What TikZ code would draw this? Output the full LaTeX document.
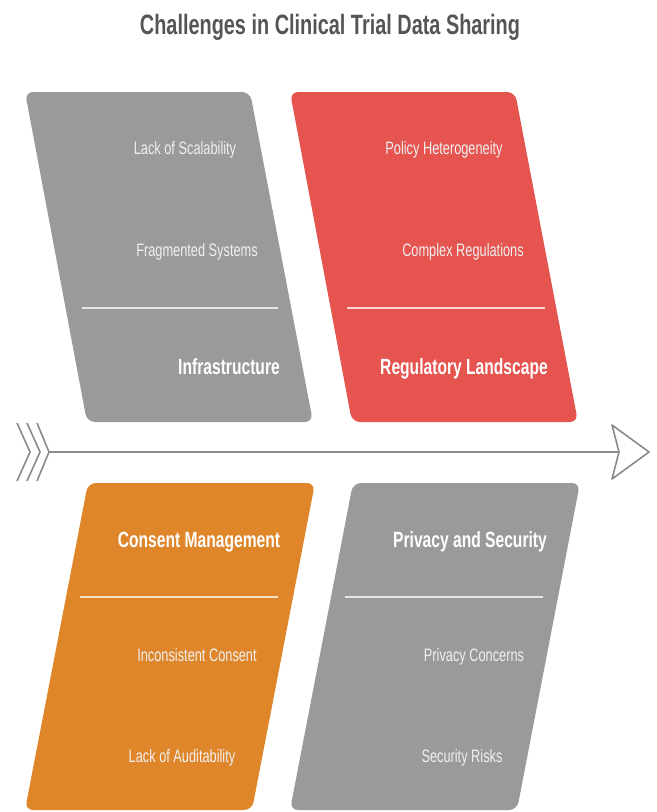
\documentclass[tikz,border=0pt]{standalone}
\usepackage{fontspec}
\setmainfont{Liberation Sans}[FakeStretch=0.71]
\usepackage{xcolor}
\usepackage{tikz}

\definecolor{cardgray}{HTML}{9A9A9A}
\definecolor{cardred}{HTML}{E5544F}
\definecolor{cardorange}{HTML}{DF862B}
\definecolor{titlegray}{HTML}{555555}
\definecolor{linegray}{HTML}{8A8A8A}

\begin{document}
\begin{tikzpicture}[x=1bp,y=-1bp,
  head/.style={font=\bfseries\fontsize{22bp}{24bp}\selectfont,text=white,anchor=base},
  item/.style={font=\fontsize{18bp}{20bp}\selectfont,text=white!94!black,anchor=base},
  divider/.style={draw=white,draw opacity=0.75,line width=2bp},
  card/.style={rounded corners=8bp}]

  \useasboundingbox (0,0) rectangle (657,812);

  \node[font=\bfseries\fontsize{28bp}{30bp}\selectfont,text=titlegray,anchor=base] (title) at (330,35) {Challenges in Clinical Trial Data Sharing};

  \fill[cardgray,card] (25,92) -- (250,92) -- (313,422) -- (87,422) -- cycle;
  \fill[cardred,card] (290,92) -- (515,92) -- (578,422) -- (352,422) -- cycle;
  \fill[cardorange,card] (88,483) -- (315,483) -- (252,810) -- (25,810) -- cycle;
  \fill[cardgray,card] (353,483) -- (580,483) -- (517,810) -- (290,810) -- cycle;

  \draw[divider] (82,308) -- (278,308);
  \draw[divider] (347,308) -- (545,308);
  \draw[divider] (80,597) -- (278,597);
  \draw[divider] (345,597) -- (543,597);

  \node[item] (scal) at (185,154) {Lack of Scalability};
  \node[item] (frag) at (197,256) {Fragmented Systems};
  \node[head] (infra) at (229,374) {Infrastructure};

  \node[item] (policy) at (444,154) {Policy Heterogeneity};
  \node[item] (regs) at (463,256) {Complex Regulations};
  \node[head] (reglan) at (464,374) {Regulatory Landscape};

  \node[head] (consent) at (199,547) {Consent Management};
  \node[item] (incons) at (197,661) {Inconsistent Consent};
  \node[item] (audit) at (182,762) {Lack of Auditability};

  \node[head] (privsec) at (470,547) {Privacy and Security};
  \node[item] (priv) at (474,661) {Privacy Concerns};
  \node[item] (risk) at (462,762) {Security Risks};

  \coordinate (tail) at (49,452);
  \coordinate (tip) at (620,452);
  \draw[linegray,line width=2bp] (tail) -- (tip);

  \draw[linegray,line width=1.6bp] (17,423) -- (30,452) -- (17,481);
  \draw[linegray,line width=1.6bp] (27,423) -- (40,452) -- (27,481);
  \draw[linegray,line width=1.6bp] (37,423) -- (49,452) -- (37,481);

  \draw[linegray,fill=white,line width=1.6bp,line join=round] (612,425) -- (649,452) -- (612,479) -- (619,452) -- cycle;
\end{tikzpicture}
\end{document}
